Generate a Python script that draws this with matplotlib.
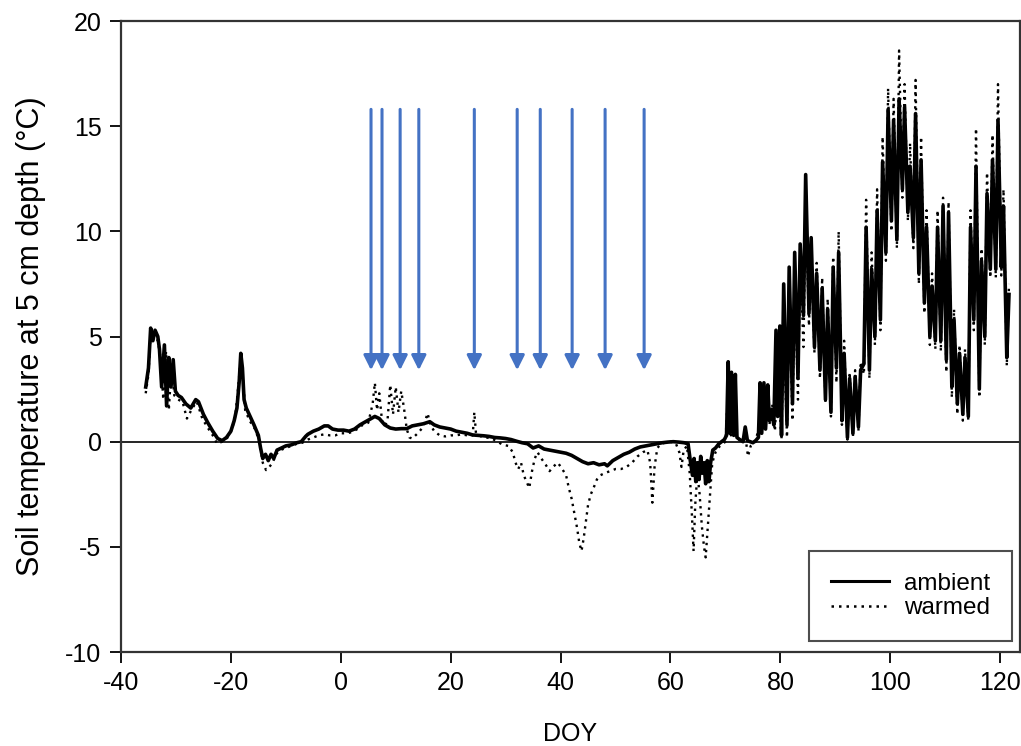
import matplotlib
matplotlib.use("Agg")
import matplotlib.pyplot as plt
from matplotlib.lines import Line2D

plt.rcParams['font.family'] = ['Liberation Sans', 'DejaVu Sans']
plt.rcParams['axes.unicode_minus'] = False

# winter part, ambient (DOY, deg C)
amb_day = [
    -35.5, -35.0, -34.6, -34.2, -33.8, -33.3, -33.0, -32.6, -32.1, -31.7,
    -31.3, -30.9, -30.5, -30.1, -29.6, -29.0, -28.2, -27.3, -26.4, -25.9,
    -25.0, -24.2, -23.3, -22.4, -21.6, -20.8, -20.0, -19.4, -18.9, -18.5,
    -18.2, -17.9, -17.6, -17.2, -16.5, -15.8, -15.0, -14.6, -14.2, -13.7,
    -13.2, -12.7, -12.2, -11.6, -10.8, -10.0, -9.0, -8.0, -7.2, -6.4,
    -6.0, -5.0, -4.0, -3.0, -2.3, -1.5, -0.5, 0.5, 1.5, 2.5,
    3.5, 4.5, 5.5, 6.2, 7.0, 8.0, 9.0, 10.0, 11.0, 12.0,
    13.0, 14.0, 15.0, 16.2, 17.0, 18.0, 19.0, 20.0, 21.0, 22.0,
    23.0, 24.0, 25.0, 26.0, 27.0, 28.0, 29.0, 30.0, 31.0, 32.0,
    33.0, 34.0, 35.0, 36.0, 37.0, 38.0, 39.0, 40.0, 41.0, 42.0,
    43.0, 44.0, 45.0, 46.0, 47.0, 48.0, 48.5, 49.5, 50.5, 51.5,
    52.5, 53.5, 54.5, 55.5, 56.5, 57.5, 58.5, 59.5, 60.5, 61.5,
    62.5, 63.2, 63.6, 64.0, 64.3, 64.6, 64.9, 65.2, 65.5, 65.8,
    66.1, 66.4, 66.7, 67.0, 67.3, 67.7, 68.2, 68.8, 69.3, 69.8,
    70.2, 70.5, 70.8, 71.1, 71.5, 71.8, 72.1, 72.6, 73.2, 73.6,
    74.0, 74.5, 75.0, 75.5, 76.0, 76.3, 76.6, 77.0, 77.3, 77.7,
    78.0, 78.4, 78.8, 79.2, 79.5, 79.9,
]
amb_temp = [
    2.6, 3.5, 5.4, 4.8, 5.3, 5.0, 4.4, 2.6, 4.6, 1.7,
    4.0, 2.6, 3.9, 2.4, 2.2, 2.1, 1.8, 1.6, 2.0, 1.9,
    1.3, 0.9, 0.5, 0.15, 0.05, 0.2, 0.5, 1.0, 1.6, 2.8,
    4.2, 3.5, 2.0, 1.6, 1.2, 0.8, 0.3, -0.3, -0.8, -0.6,
    -0.9, -0.6, -0.8, -0.4, -0.3, -0.2, -0.15, -0.05, 0.0, 0.25,
    0.35, 0.5, 0.6, 0.75, 0.75, 0.6, 0.55, 0.55, 0.5, 0.6,
    0.8, 0.95, 1.1, 1.2, 1.1, 0.8, 0.65, 0.6, 0.62, 0.62,
    0.75, 0.8, 0.85, 0.95, 0.8, 0.7, 0.65, 0.6, 0.5, 0.45,
    0.4, 0.32, 0.3, 0.28, 0.25, 0.2, 0.18, 0.15, 0.1, 0.02,
    -0.05, -0.1, -0.3, -0.2, -0.35, -0.4, -0.45, -0.5, -0.55, -0.65,
    -0.8, -0.95, -1.05, -1.0, -1.1, -1.05, -1.15, -0.9, -0.75, -0.6,
    -0.5, -0.35, -0.25, -0.2, -0.15, -0.1, -0.05, -0.02, 0.0, -0.02,
    -0.05, -0.1, -0.9, -1.6, -0.8, -1.9, -1.0, -1.8, -0.7, -1.5,
    -1.0, -2.0, -0.9, -1.9, -1.0, -0.4, -0.3, -0.1, 0.0, 0.1,
    0.3, 3.8, 0.4, 3.3, 0.3, 3.2, 0.2, 0.1, 0.0, 0.7,
    0.05, 0.0, -0.05, 0.05, 0.2, 2.8, 0.4, 2.8, 0.6, 2.7,
    1.0, 1.5, 0.8, 5.3, 1.2, 5.5,
]

# winter part, warmed
warm_day = [
    -35.5, -35.0, -34.6, -34.0, -33.3, -32.8, -32.3, -31.8, -31.3, -30.8,
    -30.3, -29.6, -28.8, -28.0, -27.0, -26.2, -25.2, -24.3, -23.3, -22.5,
    -21.6, -20.6, -19.8, -19.2, -18.7, -18.2, -17.8, -17.4, -16.6, -15.6,
    -14.8, -14.2, -13.6, -13.0, -12.4, -11.8, -11.0, -10.0, -9.0, -8.0,
    -7.0, -6.0, -5.0, -4.0, -3.0, -2.0, -1.0, 0.0, 1.0, 2.0,
    3.0, 4.0, 5.0, 5.8, 6.2, 6.6, 7.0, 7.5, 8.0, 8.5,
    9.0, 9.5, 10.0, 10.5, 11.0, 11.5, 12.0, 12.5, 13.0, 14.0,
    15.0, 15.8, 16.3, 17.0, 18.0, 19.0, 20.0, 21.0, 22.0, 23.0,
    24.0, 24.3, 24.6, 25.5, 26.5, 27.5, 28.5, 29.5, 30.5, 31.3,
    31.8, 32.3, 32.8, 33.3, 33.8, 34.3, 34.8, 35.3, 35.8, 36.5,
    37.3, 38.0, 38.6, 39.5, 40.3, 41.0, 41.5, 42.0, 42.5, 43.0,
    43.4, 43.8, 44.2, 44.6, 45.0, 45.5, 46.0, 46.6, 47.2, 48.0,
    49.0, 50.0, 51.0, 52.0, 53.0, 54.0, 55.0, 55.8, 56.3, 56.7,
    57.1, 57.6, 58.3, 59.0, 60.0, 61.0, 61.6, 62.0, 62.4, 63.0,
    63.5, 63.9, 64.2, 64.5, 64.9, 65.3, 65.7, 66.1, 66.4, 66.8,
    67.2, 67.6, 68.2, 69.0, 70.0, 70.5, 71.0, 71.5, 72.0, 73.0,
    73.6, 74.1, 74.6, 75.5, 76.3, 77.0, 77.5, 78.0, 78.5, 79.0,
    79.5,
]
warm_temp = [
    2.3, 3.2, 5.2, 5.1, 4.8, 4.0, 2.0, 4.3, 1.5, 3.6,
    2.2, 2.0, 1.9, 1.1, 1.6, 1.9, 1.1, 0.7, 0.3, -0.1,
    0.0, 0.2, 0.6, 1.2, 2.5, 4.0, 3.0, 1.5, 1.0, 0.6,
    0.0, -1.0, -1.35, -1.2, -1.0, -0.6, -0.4, -0.3, -0.2, -0.1,
    -0.05, 0.1, 0.2, 0.3, 0.35, 0.3, 0.3, 0.4, 0.4, 0.45,
    0.6, 0.8, 0.9, 1.8, 2.8, 1.5, 2.3, 1.0, 0.75, 1.0,
    2.7, 1.3, 2.6, 1.4, 2.4, 1.6, 0.6, 0.2, 0.15, 0.4,
    0.7, 1.35, 0.8, 0.5, 0.3, 0.25, 0.3, 0.3, 0.35, 0.3,
    0.3, 1.4, 0.4, 0.25, 0.2, 0.15, 0.0, -0.15, -0.2, -0.5,
    -1.0, -1.3, -1.0, -1.6, -1.9, -2.2, -1.4, -0.8, -0.5, -0.8,
    -1.1, -1.4, -1.2, -1.0, -1.3, -1.6, -2.2, -2.7, -3.4, -4.1,
    -4.8, -5.2, -4.6, -3.8, -3.0, -2.5, -2.2, -1.8, -1.6, -1.5,
    -1.4, -1.3, -1.3, -1.2, -1.0, -0.7, -0.5, -0.4, -1.0, -2.9,
    -1.2, -0.3, -0.1, -0.05, 0.0, -0.1, -0.5, -1.2, -0.4, -0.2,
    -1.5, -3.5, -5.2, -3.0, -1.5, -2.5, -4.0, -5.0, -5.5, -4.0,
    -2.5, -1.0, -0.5, -0.2, 0.0, 2.5, 0.3, 1.5, 0.2, 0.0,
    0.3, -0.7, -0.2, 0.0, 1.0, 0.5, 1.5, 0.8, 1.8, 0.5,
    3.0,
]

# spring part: daily minimum / maximum
spring_day = [80, 81, 82, 83, 84, 85, 86, 87, 88, 89,
              90, 91, 92, 93, 94, 95, 96, 97, 98, 99,
              100, 101, 102, 103, 104, 105, 106, 107, 108, 109,
              110, 111, 112, 113, 114, 115, 116, 117, 118, 119,
              120, 121]
amb_max = [7.5, 8.3, 9.0, 9.4, 12.7, 9.7, 8.0, 7.3, 6.3, 8.3,
           9.0, 4.2, 3.0, 3.1, 3.4, 10.2, 8.2, 11.0, 13.3, 15.8,
           15.3, 16.3, 15.9, 13.1, 15.6, 13.4, 10.2, 7.4, 10.2, 11.2,
           10.9, 5.8, 4.2, 4.0, 10.2, 13.1, 8.6, 11.8, 13.4, 15.3,
           11.2, 7.0]
amb_min = [0.3, 0.8, 1.8, 3.0, 6.0, 6.1, 4.5, 3.4, 2.0, 1.4,
           3.5, 1.0, 0.2, 0.4, 0.7, 3.7, 3.4, 5.0, 5.8, 9.0,
           10.5, 9.6, 12.0, 10.9, 9.7, 8.0, 6.6, 5.0, 4.8, 4.8,
           3.9, 2.6, 1.8, 1.3, 1.2, 5.8, 2.5, 5.0, 8.2, 8.2,
           8.3, 4.0]
warm_max = [5.5, 7.0, 8.0, 8.8, 11.5, 9.0, 8.5, 7.8, 6.8, 8.8,
            10.0, 4.8, 3.3, 3.4, 3.8, 11.5, 9.0, 12.0, 14.5, 16.8,
            16.3, 18.6, 17.0, 14.2, 17.2, 14.5, 11.0, 8.0, 11.0, 11.6,
            11.4, 6.3, 4.6, 4.4, 11.0, 14.9, 9.2, 12.8, 14.6, 17.0,
            12.0, 7.5]
warm_min = [0.1, 0.2, 1.0, 2.0, 4.5, 5.5, 4.2, 3.0, 1.8, 1.2,
            2.8, 0.8, 0.1, 0.2, 0.5, 3.2, 3.0, 4.6, 5.3, 8.6,
            10.0, 9.2, 11.6, 10.5, 9.2, 7.5, 6.1, 4.6, 4.4, 4.3,
            3.3, 2.1, 1.3, 1.0, 1.0, 5.3, 2.1, 4.6, 7.8, 7.8,
            7.9, 3.6]

# days marked with arrows
event_day = [5.5, 7.5, 10.8, 14.2, 24.3, 32.1, 36.3, 42.1, 48.1, 55.2]


def with_spring(days, temps, lo, hi):
    # night minimum then afternoon maximum for each spring day
    x, y = list(days), list(temps)
    for d, a, b in zip(spring_day, lo, hi):
        x += [d + 0.2, d + 0.6]
        y += [a, b]
    return x, y


ax_x, ax_y = with_spring(amb_day, amb_temp, amb_min, amb_max)
wx, wy = with_spring(warm_day, warm_temp, warm_min, warm_max)

fig = plt.figure(figsize=(10.21, 7.46), dpi=100)
ax = fig.add_axes([0.1185, 0.126, 0.8805, 0.8458])

ax.axhline(0, color='black', lw=1.2, zorder=1)
ax.plot(wx, wy, color='black', lw=1.7, linestyle=(0, (1, 2)), zorder=2)
ax.plot(ax_x, ax_y, color='black', lw=2.6, zorder=3)

for d in event_day:
    ax.annotate('', xy=(d, 3.4), xytext=(d, 15.8),
                arrowprops=dict(arrowstyle='-|>', color='#4472C4', lw=2.2,
                                mutation_scale=22, shrinkA=0, shrinkB=0),
                zorder=4)

ax.set_xlim(-40, 123.6)
ax.set_ylim(-10, 20)
ax.set_xticks([-40, -20, 0, 20, 40, 60, 80, 100, 120])
ax.set_yticks([-10, -5, 0, 5, 10, 15, 20])
ax.tick_params(direction='out', length=8, width=1.3, labelsize=18,
               colors='black', pad=6)
for s in ax.spines.values():
    s.set_linewidth(1.6)
    s.set_color('#333333')

ax.set_xlabel('DOY', fontsize=18, labelpad=19)
ax.set_ylabel('Soil temperature at 5 cm depth (°C)', fontsize=22, labelpad=14)

handles = [Line2D([], [], color='black', lw=2.2),
           Line2D([], [], color='black', lw=1.8, linestyle=(0, (1, 2)))]
leg = ax.legend(handles, ['ambient', 'warmed'], loc='lower right',
                bbox_to_anchor=(0.991, 0.0174), borderaxespad=0,
                fontsize=17.5, frameon=True, fancybox=False,
                handlelength=2.4, handletextpad=0.6, labelspacing=0.1,
                borderpad=0.9)
leg.get_frame().set_edgecolor('#222222')
leg.get_frame().set_linewidth(1.5)

fig.savefig('out.png', dpi=100)
